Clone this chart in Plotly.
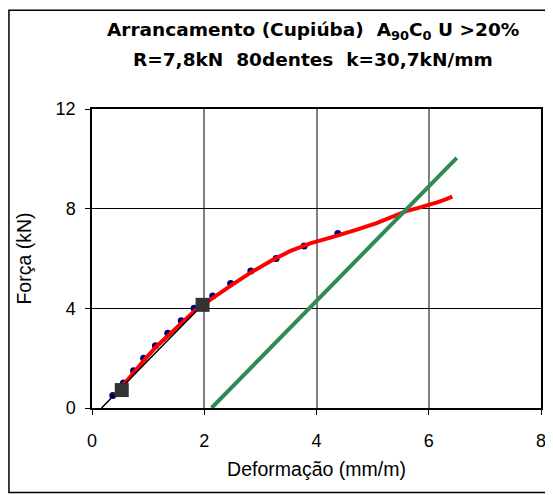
import plotly.graph_objects as go

# ensaio - pontos medidos (deformacao mm/m, forca kN)
pontos_x = [0.37, 0.56, 0.74, 0.92, 1.13, 1.35, 1.59, 1.82, 2.15, 2.47, 2.83, 3.28, 3.78, 4.38]
pontos_y = [0.5, 1.0, 1.5, 2.0, 2.5, 3.0, 3.5, 4.0, 4.5, 5.0, 5.5, 6.0, 6.5, 7.0]

# curva continua (extensometro)
curva_x = [0.40, 0.58, 0.76, 0.95, 1.15, 1.37, 1.60, 1.84, 2.00, 2.17, 2.48, 2.84, 3.20,
           3.55, 3.90, 4.25, 4.50, 4.72, 5.07, 5.35, 5.60, 5.80, 6.00, 6.15, 6.30, 6.42]
curva_y = [0.50, 1.00, 1.48, 1.97, 2.47, 2.95, 3.45, 3.92, 4.18, 4.45, 4.92, 5.45, 5.92,
           6.32, 6.62, 6.84, 7.00, 7.16, 7.42, 7.68, 7.90, 8.02, 8.14, 8.25, 8.37, 8.48]

# pontos para calculo do modulo k
ref_x = [0.53, 1.97]
ref_y = [0.72, 4.14]

# reta de rigidez
reta_x = [0.17, 1.97]
reta_y = [0.0, 4.14]

# reta paralela (offset 2 mm/m)
paralela_x = [2.13, 6.50]
paralela_y = [0.0, 10.04]

fonte = "Liberation Sans, Arial, sans-serif"
fonte_titulo = "DejaVu Sans, Arial, sans-serif"

fig = go.Figure()
fig.add_trace(go.Scatter(x=pontos_x, y=pontos_y, mode="markers",
                         marker=dict(color="#000080", size=7), showlegend=False))
fig.add_trace(go.Scatter(x=curva_x, y=curva_y, mode="lines",
                         line=dict(color="#ff0000", width=4), showlegend=False))
fig.add_trace(go.Scatter(x=reta_x, y=reta_y, mode="lines",
                         line=dict(color="#000000", width=1.5), showlegend=False))
fig.add_trace(go.Scatter(x=ref_x, y=ref_y, mode="markers",
                         marker=dict(color="#333333", size=14, symbol="square"), showlegend=False))
fig.add_trace(go.Scatter(x=paralela_x, y=paralela_y, mode="lines",
                         line=dict(color="#2e8b57", width=4), showlegend=False))

# a pagina tem margem de 8px no body, por isso a figura e um pouco menor
fig.update_layout(
    width=545, height=487,
    margin=dict(l=84, r=7, t=101, b=87),
    paper_bgcolor="white", plot_bgcolor="white",
    font=dict(family=fonte, size=18, color="black"),
    xaxis=dict(range=[0, 8], tickvals=[0, 2, 4, 6, 8], showgrid=True, gridcolor="#808080",
               gridwidth=1.5, showline=True, linecolor="black", linewidth=1.5, mirror=True,
               ticks="outside", ticklen=5, tickcolor="black", zeroline=False,
               ticklabelstandoff=11,
               title=dict(text="Deformação (mm/m)", standoff=12, font=dict(size=19.5))),
    yaxis=dict(range=[0, 12], tickvals=[0, 4, 8, 12], showgrid=True, gridcolor="black",
               showline=True, linecolor="black", linewidth=1.5, mirror=True,
               ticks="outside", ticklen=5, tickcolor="black", zeroline=False,
               ticklabelstandoff=6,
               title=dict(text="Força (kN)", standoff=19, font=dict(size=19.5))),
    annotations=[
        dict(text="<b>Arrancamento (Cupiúba)  A<sub>90</sub>C<sub>0</sub> U >20%</b>",
             xref="paper", yref="paper", x=0.493, y=1.262, xanchor="center", yanchor="middle",
             showarrow=False, font=dict(family=fonte_titulo, size=18.5)),
        dict(text="<b>R=7,8kN  80dentes  k=30,7kN/mm</b>",
             xref="paper", yref="paper", x=0.493, y=1.167, xanchor="center", yanchor="middle",
             showarrow=False, font=dict(family=fonte_titulo, size=18.5)),
    ],
    shapes=[dict(type="rect", xref="paper", yref="paper", x0=-0.185, x1=1.013, y0=-0.283, y1=1.33,
                 line=dict(color="black", width=1.5))],
)

fig.write_html("out.html")
